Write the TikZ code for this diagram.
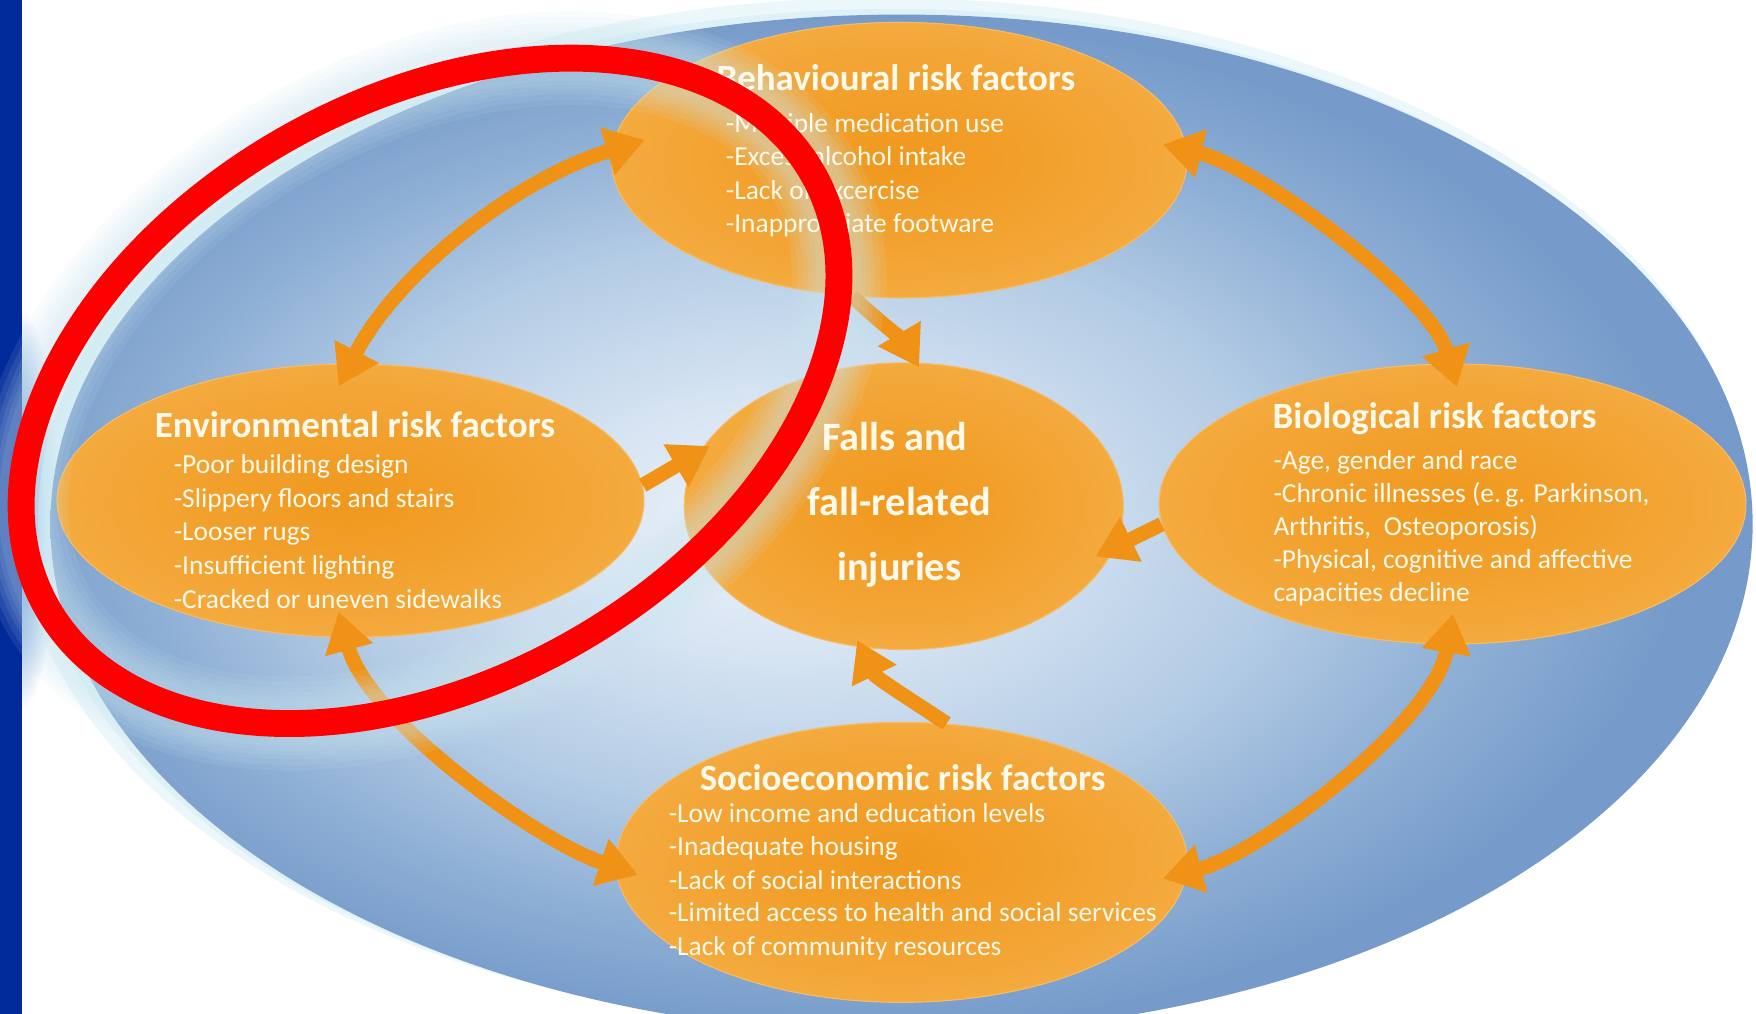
\documentclass[tikz,border=0pt]{standalone}
\usepackage{fontspec}
\setmainfont{Carlito}
\usetikzlibrary{shapes.geometric,arrows.meta}

% palette
\definecolor{barblue}{RGB}{0,41,153}
\definecolor{textc}{RGB}{255,250,236}
\definecolor{arrowc}{RGB}{239,146,22}
\definecolor{halo}{RGB}{212,238,246}
\definecolor{glowc}{RGB}{205,232,242}
\definecolor{ringred}{RGB}{255,0,0}
\definecolor{ov0}{RGB}{236,242,249}
\definecolor{ov1}{RGB}{216,229,243}
\definecolor{ov2}{RGB}{180,204,229}
\definecolor{ov3}{RGB}{142,175,213}
\definecolor{ov4}{RGB}{118,155,202}
\definecolor{or0}{RGB}{240,152,30}
\definecolor{or1}{RGB}{242,160,44}
\definecolor{or2}{RGB}{244,170,62}
\definecolor{bg0}{RGB}{60,112,192}
\definecolor{bg1}{RGB}{130,170,220}

% shadings of the large oval, the factor blobs and the glow beside the bar
% (the path border sits at 25bp)
\pgfdeclareradialshading{bigoval}{\pgfpoint{-4bp}{0bp}}{color(0bp)=(ov0); color(6bp)=(ov1); color(14bp)=(ov2); color(20bp)=(ov3); color(25bp)=(ov4); color(50bp)=(ov4)}
\pgfdeclareradialshading{blob}{\pgfpoint{0bp}{0bp}}{color(0bp)=(or0); color(12bp)=(or1); color(25bp)=(or2); color(50bp)=(or2)}
\pgfdeclareradialshading{barglow}{\pgfpoint{0bp}{0bp}}{color(0bp)=(bg0); color(12bp)=(bg1); color(25bp)=(white); color(50bp)=(white)}

\tikzset{
  factor/.style={ellipse, shading=blob, inner sep=0pt, draw=or2!80!white, line width=1pt},
  flow/.style={draw=arrowc, line width=13pt},
  head/.style={font=\fontsize{33}{36}\selectfont\bfseries, text=textc, inner sep=0pt, anchor=base},
  item/.style={font=\fontsize{24.5}{30}\selectfont, text=textc, inner sep=0pt, anchor=base west},
  bigtext/.style={font=\fontsize{36}{40}\selectfont\bfseries, text=textc, inner sep=0pt, anchor=base},
  ringglow/.style={glowc, opacity=0.1},
  >={Triangle[length=35pt,width=42pt]}
}

\begin{document}
\begin{tikzpicture}[x=1pt,y=-1pt]
\useasboundingbox (0,0) rectangle (1568,905);
\clip (0,0) rectangle (1568,905);
\fill[white] (0,0) rectangle (1568,905);

% glow at the right of the side bar
\begin{scope}
  \clip (20,240) rectangle (90,700);
  \shade[shading=barglow] (18,455) ellipse [x radius=34, y radius=180];
\end{scope}
\fill[barblue] (0,0) rectangle (20,905);

% large oval with its soft halo
\fill[halo, opacity=0.45] (788,458) ellipse [x radius=772, y radius=460];
\fill[halo, opacity=0.6] (796,464) ellipse [x radius=762, y radius=456];
\shade[shading=bigoval] (805,468) ellipse [x radius=760, y radius=455];

% factor blobs
\node[factor, minimum width=514pt, minimum height=246pt] (behav) at (803,143) {};
\node[factor, minimum width=524pt, minimum height=244pt] (env)   at (313,447) {};
\node[factor, minimum width=392pt, minimum height=256pt] (falls) at (807,452) {};
\node[factor, minimum width=524pt, minimum height=250pt] (bio)   at (1297,450) {};
\node[factor, minimum width=510pt, minimum height=250pt] (socio) at (805,770) {};

% links between the factors
\draw[flow,<->, shorten <=-23pt, shorten >=-31pt]
  (env.90) .. controls +(41,-80) and +(-86,26) .. (behav.178);
\draw[flow,<->, shorten <=-22pt, shorten >=-22pt]
  (bio.91) .. controls +(-18,-62) and +(63,15) .. (behav.2);
\draw[flow,<->, shorten <=-24pt, shorten >=-21pt]
  (env.268) .. controls +(20,73) and +(-71,-24) .. (socio.181);
\draw[flow,<->, shorten <=-28pt, shorten >=-22pt]
  (bio.268) .. controls +(-12,69) and +(68,-18) .. (socio.358);

% links into the centre
\draw[flow,->, shorten >=-5pt]
  (behav.251) .. controls +(22,20) and +(-10,-17) .. (falls.85);
\draw[flow,->, shorten >=-10pt] (env.3) -- (falls.165);
\draw[flow,->, shorten >=-19pt] (bio.184) -- (falls.-11);
\draw[flow,->, shorten >=-7pt]
  (socio.72) .. controls +(-30,-20) and +(13,27) .. (falls.253);

% soft glow around the marking ring
\begin{scope}[rotate around={29.5:(384,349)}]
  \foreach \w in {84,74,64,56,48,40}
    \draw[ringglow, line width=\w pt] (384,349) ellipse [x radius=393, y radius=259];
\end{scope}

% texts
\node[head] (behavT) at (800,81) {Behavioural risk factors};
\node[item] (behav1) at (648,118) {-Multiple medication use};
\node[item] (behav2) at (648,148) {-Excess alcohol intake};
\node[item] (behav3) at (648,178) {-Lack of excercise};
\node[item] (behav4) at (648,208) {-Inappropriate footware};

\node[head] (envT) at (317,391) {Environmental risk factors};
\node[item] (env1) at (155,423) {-Poor building design};
\node[item] (env2) at (155,453) {-Slippery floors and stairs};
\node[item] (env3) at (155,483) {-Looser rugs};
\node[item] (env4) at (155,513) {-Insufficient lighting};
\node[item] (env5) at (155,543) {-Cracked or uneven sidewalks};

\node[bigtext] (falls1) at (799,402) {Falls and};
\node[bigtext] (falls2) at (803,460) {fall-related};
\node[bigtext] (falls3) at (803,518) {injuries};

\node[head] (bioT) at (1281,383) {Biological risk factors};
\node[item] (bio1) at (1137,419) {-Age, gender and race};
\node[item] (bio2) at (1137,449) {-Chronic illnesses (e.\,g. Parkinson,};
\node[item] (bio3) at (1137,478) {Arthritis,\ \ Osteoporosis)};
\node[item] (bio4) at (1137,508) {-Physical, cognitive and affective};
\node[item] (bio5) at (1137,537) {capacities decline};

\node[head] (socioT) at (806,706) {Socioeconomic risk factors};
\node[item] (socio1) at (597,734) {-Low income and education levels};
\node[item] (socio2) at (597,764) {-Inadequate housing};
\node[item] (socio3) at (597,794) {-Lack of social interactions};
\node[item] (socio4) at (597,823) {-Limited access to health and social services};
\node[item] (socio5) at (597,853) {-Lack of community resources};

% red marking ring
\begin{scope}[rotate around={29.5:(384,349)}]
  \draw[ringred, line width=24pt] (384,349) ellipse [x radius=393, y radius=259];
\end{scope}
\end{tikzpicture}
\end{document}
